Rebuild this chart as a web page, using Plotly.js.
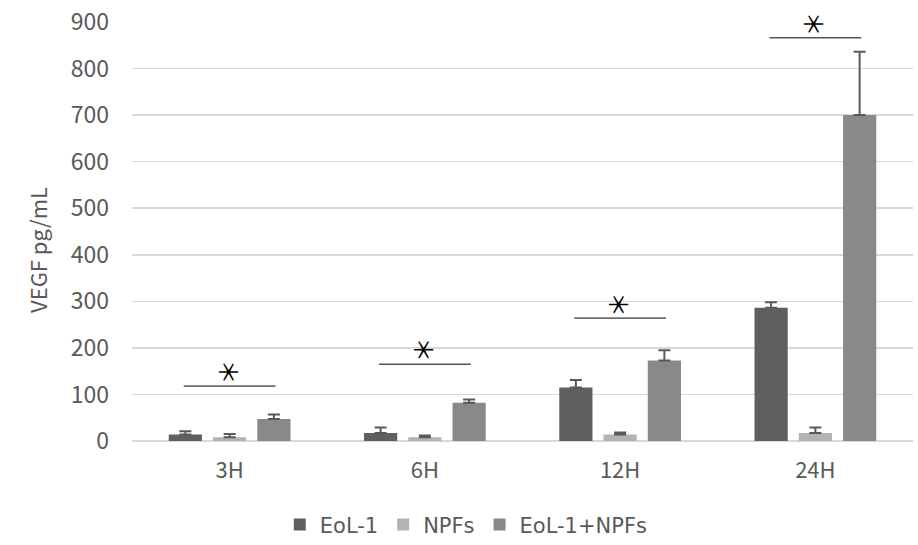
<!DOCTYPE html>
<html>
<head>
<meta charset="utf-8">
<script src="https://cdn.plot.ly/plotly-3.0.1.min.js"></script>
<style>html,body{margin:0;padding:0;background:#fff;}#chart{width:918px;height:545px;}</style>
</head>
<body>
<div id="chart"></div>
<script>
var categories = ['3H', '6H', '12H', '24H'];
var seriesNames = ['EoL-1', 'NPFs', 'EoL-1+NPFs'];
var eol1 = [14, 17, 115, 286];
var eol1Err = [7, 12, 16, 12];
var npfs = [8, 8, 14, 17];
var npfsErr = [7, 4, 4, 12];
var combo = [47, 82, 173, 700];
var comboErr = [10, 7, 22, 136];
var sigY = [118, 165, 264, 866];
var sigText = ['＊', '＊', '＊', '＊'];
var yTitle = 'VEGF pg/mL';

var colors = ['#5f5f5f', '#b3b3b3', '#898989'];
var font = '"Noto Sans CJK JP", "Noto Sans", sans-serif';
var legendFont = '"DejaVu Sans", sans-serif';
var vals = [eol1, npfs, combo];
var errs = [eol1Err, npfsErr, comboErr];

var traces = vals.map(function (v, i) {
  return {
    type: 'bar',
    name: seriesNames[i],
    x: categories,
    y: v,
    marker: {color: colors[i], line: {width: 0}},
    error_y: {
      type: 'data', symmetric: false, array: errs[i],
      arrayminus: v.map(function () { return 0; }),
      color: '#595959', thickness: 2, width: 6
    }
  };
});

var shapes = [];
var annotations = [];
sigY.forEach(function (y, i) {
  shapes.push({
    type: 'line', xref: 'x', yref: 'y',
    x0: i - 0.235, x1: i + 0.235, y0: y, y1: y,
    line: {color: '#000000', width: 1}
  });
  annotations.push({
    xref: 'x', yref: 'y', x: i, y: y,
    text: sigText[i], showarrow: false, textangle: 90,
    xanchor: 'center', yanchor: 'middle', yshift: 14,
    font: {family: font, size: 25, color: '#000000'}
  });
});
annotations.push({
  xref: 'paper', yref: 'paper', x: -0.1216, y: 0.456,
  text: yTitle, showarrow: false, textangle: -90,
  xanchor: 'center', yanchor: 'middle',
  font: {family: font, size: 22, color: '#595959'}
});

var layout = {
  width: 918, height: 545,
  margin: {l: 132, r: 5, t: 22, b: 104, autoexpand: false},
  paper_bgcolor: '#ffffff', plot_bgcolor: '#ffffff',
  barmode: 'group', bargap: 0.32, bargroupgap: 0.25,
  font: {family: font, size: 20, color: '#595959'},
  xaxis: {
    showgrid: false, showline: false, zeroline: false, ticks: '',
    tickfont: {family: font, size: 22, color: '#595959'},
    ticklabelstandoff: 14, automargin: false
  },
  yaxis: {
    range: [0, 900], dtick: 100, tick0: 0,
    showgrid: true, gridcolor: '#d9d9d9', gridwidth: 1.5,
    zeroline: true, zerolinecolor: '#d9d9d9', zerolinewidth: 1.5,
    showline: false, ticks: '',
    tickfont: {family: font, size: 23, color: '#595959'},
    ticklabelstandoff: 22, automargin: false
  },
  showlegend: true,
  legend: {
    orientation: 'h', x: 0.428, xanchor: 'center',
    yref: 'container', y: 0.037, yanchor: 'middle',
    font: {family: legendFont, size: 21, color: '#595959'},
    itemwidth: 30, traceorder: 'normal'
  },
  shapes: shapes,
  annotations: annotations
};

Plotly.newPlot('chart', traces, layout, {displayModeBar: false, staticPlot: true});
</script>
</body>
</html>
